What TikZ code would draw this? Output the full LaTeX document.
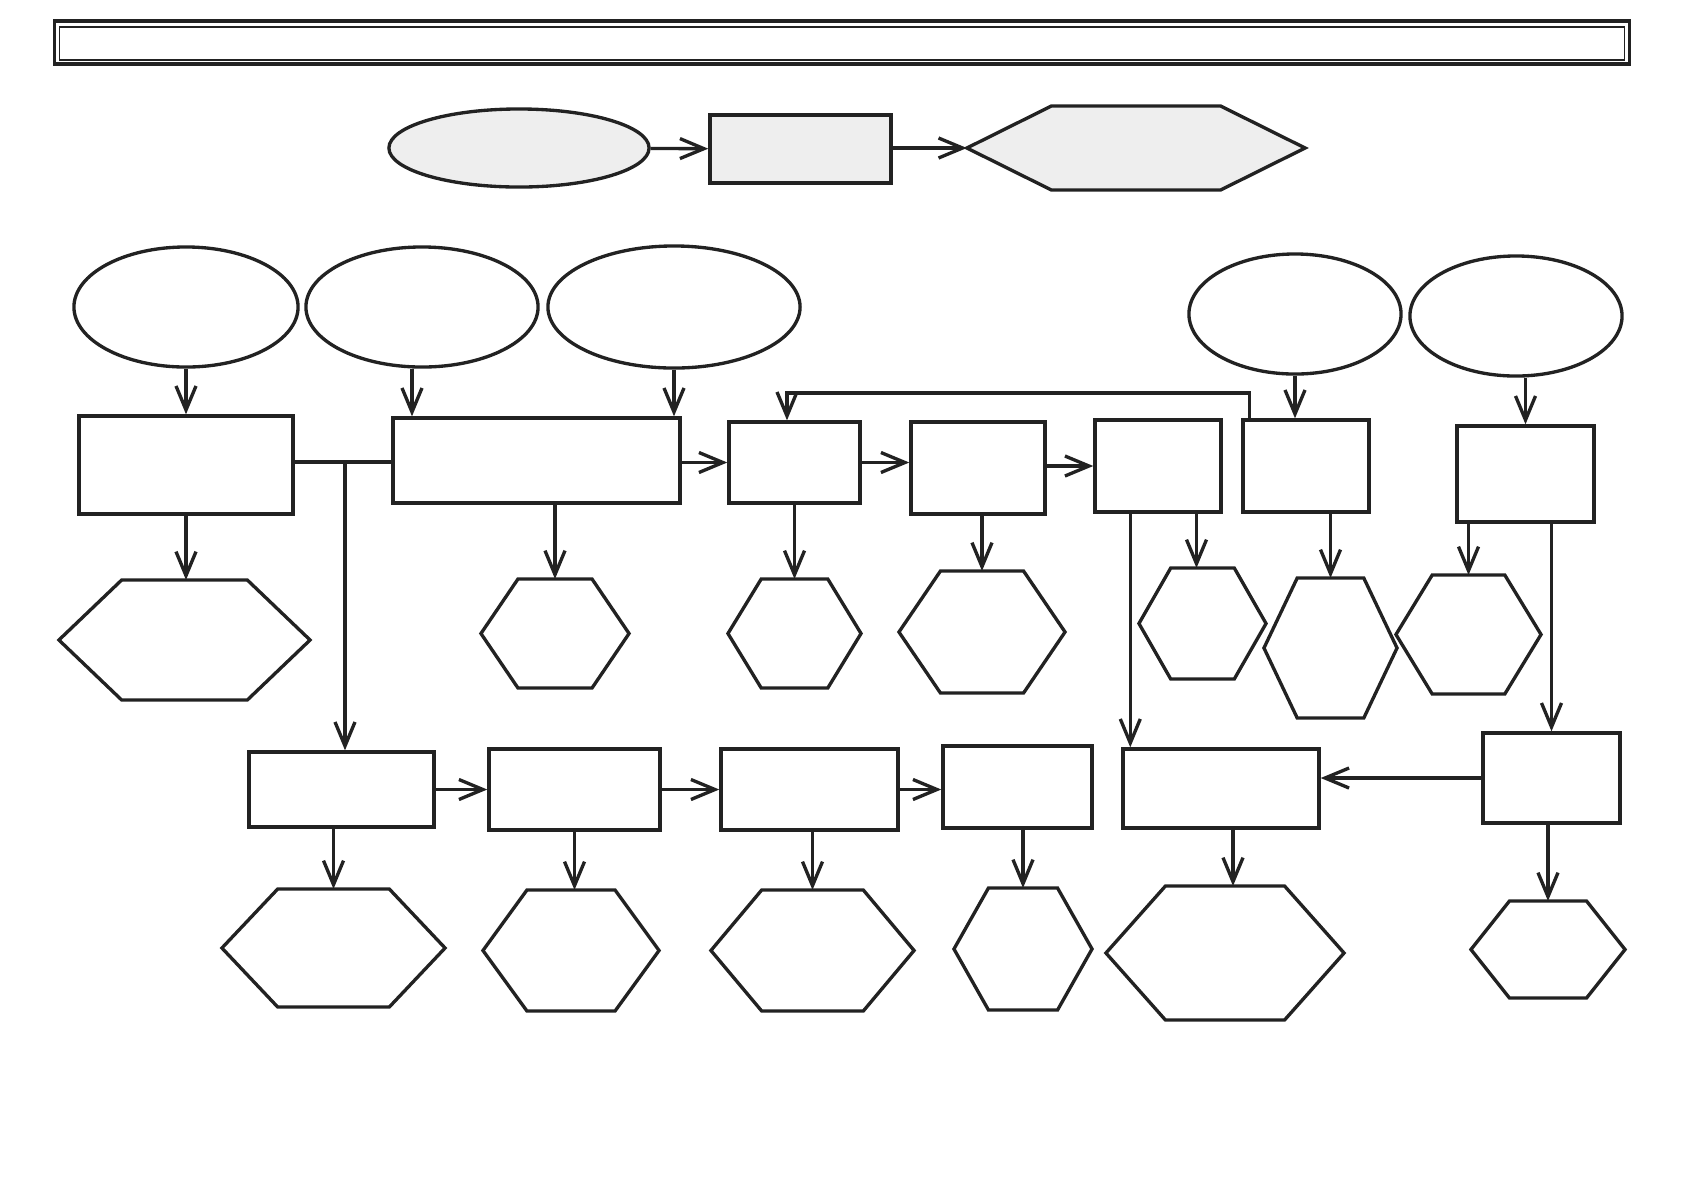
\documentclass[tikz,border=0pt]{standalone}
\usepackage{tikz}
\usetikzlibrary{arrows.meta,shapes.geometric,calc}
\definecolor{inkline}{HTML}{222222}
\definecolor{shade}{HTML}{EEEEEE}

\begin{document}
\begin{tikzpicture}[
  x=0.01cm, y=-0.01cm,
  color=inkline, line width=0.95pt,
  ovalbox/.style={draw, ellipse, inner sep=0pt},
  rectbox/.style={draw, rectangle, inner sep=0pt},
  hexbox/.style={rectangle, inner sep=0pt, outer sep=0pt},
  hexline/.style={draw, line join=miter},
  arr/.style={-{Straight Barb[length=2.4mm,width=2mm]}}
]
\useasboundingbox (0,0) rectangle (1684,1190);

\node[draw, line width=1.1pt, minimum width=15.74cm, minimum height=0.43cm] (titleframe) at (842,42.5) {};
\node[draw, line width=0.5pt, minimum width=15.64cm, minimum height=0.33cm] (titlebox) at (842,43.5) {};

\node[ovalbox, fill=shade, minimum width=2.60cm, minimum height=0.78cm] (start) at (519,148) {};
\node[rectbox, fill=shade, minimum width=1.81cm, minimum height=0.68cm] (process) at (800.5,149) {};
\node[hexbox, minimum width=3.38cm, minimum height=0.84cm] (result) at (1136,148) {};

\node[ovalbox, minimum width=2.24cm, minimum height=1.20cm] (e1) at (186,307) {};
\node[ovalbox, minimum width=2.32cm, minimum height=1.20cm] (e2) at (422,307) {};
\node[ovalbox, minimum width=2.52cm, minimum height=1.22cm] (e3) at (674,307) {};
\node[ovalbox, minimum width=2.12cm, minimum height=1.20cm] (e4) at (1295,314) {};
\node[ovalbox, minimum width=2.12cm, minimum height=1.20cm] (e5) at (1516,316) {};

\node[rectbox, minimum width=2.14cm, minimum height=0.98cm] (r1) at (186,465) {};
\node[rectbox, minimum width=2.87cm, minimum height=0.85cm] (r2) at (536.5,460.5) {};
\node[rectbox, minimum width=1.31cm, minimum height=0.81cm] (r3) at (794.5,462.5) {};
\node[rectbox, minimum width=1.34cm, minimum height=0.92cm] (r4) at (978,468) {};
\node[rectbox, minimum width=1.26cm, minimum height=0.92cm] (r5) at (1158,466) {};
\node[rectbox, minimum width=1.26cm, minimum height=0.92cm] (r6) at (1306,466) {};
\node[rectbox, minimum width=1.37cm, minimum height=0.96cm] (r7) at (1525.5,474) {};

\node[hexbox, minimum width=2.51cm, minimum height=1.20cm] (h1) at (184.5,640) {};
\node[hexbox, minimum width=1.48cm, minimum height=1.09cm] (h2) at (555,633.5) {};
\node[hexbox, minimum width=1.33cm, minimum height=1.09cm] (h3) at (794.5,633.5) {};
\node[hexbox, minimum width=1.66cm, minimum height=1.22cm] (h4) at (982,632) {};
\node[hexbox, minimum width=1.27cm, minimum height=1.11cm] (h5) at (1202.5,623.5) {};
\node[hexbox, minimum width=1.33cm, minimum height=1.40cm] (h6) at (1330.5,648) {};
\node[hexbox, minimum width=1.45cm, minimum height=1.19cm] (h7) at (1468.5,634.5) {};

\node[rectbox, minimum width=1.85cm, minimum height=0.75cm] (b1) at (341.5,789.5) {};
\node[rectbox, minimum width=1.71cm, minimum height=0.81cm] (b2) at (574.5,789.5) {};
\node[rectbox, minimum width=1.77cm, minimum height=0.81cm] (b3) at (809.5,789.5) {};
\node[rectbox, minimum width=1.49cm, minimum height=0.82cm] (b4) at (1017.5,787) {};
\node[rectbox, minimum width=1.96cm, minimum height=0.79cm] (b5) at (1221,788.5) {};
\node[rectbox, minimum width=1.37cm, minimum height=0.90cm] (b6) at (1551.5,778) {};

\node[hexbox, minimum width=2.23cm, minimum height=1.18cm] (k1) at (333.5,948) {};
\node[hexbox, minimum width=1.76cm, minimum height=1.21cm] (k2) at (571,950.5) {};
\node[hexbox, minimum width=2.03cm, minimum height=1.21cm] (k3) at (812.5,950.5) {};
\node[hexbox, minimum width=1.38cm, minimum height=1.22cm] (k4) at (1023,949) {};
\node[hexbox, minimum width=2.38cm, minimum height=1.34cm] (k5) at (1225,953) {};
\node[hexbox, minimum width=1.54cm, minimum height=0.97cm] (k6) at (1548,949.5) {};

\draw[hexline, fill=shade] (result.west) -- ($(result.north west)!.25!(result.north east)$) -- ($(result.north west)!.75!(result.north east)$) -- (result.east) -- ($(result.south west)!.75!(result.south east)$) -- ($(result.south west)!.25!(result.south east)$) -- cycle;
\foreach \h in {h1,h2,h3,h4,h5,h6,h7,k1,k2,k3,k4,k5,k6}
  \draw[hexline] (\h.west) -- ($(\h.north west)!.25!(\h.north east)$) -- ($(\h.north west)!.75!(\h.north east)$) -- (\h.east) -- ($(\h.south west)!.75!(\h.south east)$) -- ($(\h.south west)!.25!(\h.south east)$) -- cycle;

\coordinate (j1) at (345,462);
\coordinate (fb) at (787,393);
\coordinate (a2) at ([xshift=-0.1cm]e2.south);
\coordinate (a5) at ([xshift=-0.06cm]h5.north);
\coordinate (d5) at ([xshift=0.09cm]b5.north west);
\coordinate (c5) at ([xshift=0.08cm]k5.north);
\coordinate (f6) at ([xshift=0.08cm]r6.north west);

\draw[arr] (start) -- (process);
\draw[arr] (result.west -| process.east) -- (result.west);

\draw[arr] (e1.south) -- (r1.north);
\draw[arr] (a2) -- (a2 |- r2.north);
\draw[arr] (e3.south) -- (e3.south |- r2.north);
\draw[arr] (e4.south) -- (e4.south |- r6.north);
\draw[arr] (r7.north |- e5.south) -- (r7.north);

\draw (r1.east |- j1) -- (j1 -| r2.west);
\draw[arr] (j1) -- (j1 |- b1.north);
\draw[arr] (r3.west -| r2.east) -- (r3.west);
\draw[arr] (r3.east) -- (r3.east -| r4.west);
\draw[arr] (r5.west -| r4.east) -- (r5.west);
\draw[arr] (f6) |- (fb) -- (fb |- r3.north);

\draw[arr] (r1.south) -- (r1.south |- h1.north);
\draw[arr] (h2.north |- r2.south) -- (h2.north);
\draw[arr] (r3.south) -- (r3.south |- h3.north);
\draw[arr] (h4.north |- r4.south) -- (h4.north);
\draw[arr] (a5 |- r5.south) -- (a5);
\draw[arr] (h6.north |- r6.south) -- (h6.north);
\draw[arr] (h7.north |- r7.south) -- (h7.north);

\draw[arr] (d5 |- r5.south) -- (d5);
\draw[arr] (b6.north |- r7.south) -- (b6.north);

\draw[arr] (b1.east) -- (b1.east -| b2.west);
\draw[arr] (b2.east) -- (b2.east -| b3.west);
\draw[arr] (b3.east) -- (b3.east -| b4.west);
\draw[arr] (b6.west) -- (b6.west -| b5.east);

\draw[arr] (k1.north |- b1.south) -- (k1.north);
\draw[arr] (b2.south) -- (b2.south |- k2.north);
\draw[arr] (k3.north |- b3.south) -- (k3.north);
\draw[arr] (k4.north |- b4.south) -- (k4.north);
\draw[arr] (c5 |- b5.south) -- (c5);
\draw[arr] (k6.north |- b6.south) -- (k6.north);
\end{tikzpicture}
\end{document}
